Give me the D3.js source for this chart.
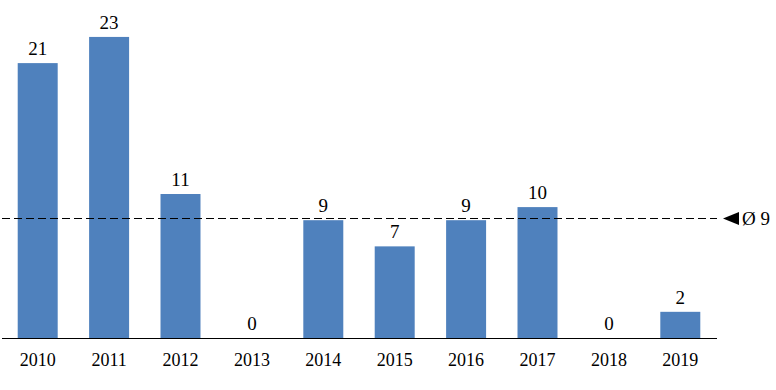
<!DOCTYPE html>
<html><head><meta charset="utf-8">
<script src="https://cdn.jsdelivr.net/npm/d3@7/dist/d3.min.js"></script>
<style>body{margin:0;background:#fff}svg{display:block}
svg text{font-family:"Liberation Serif","Times New Roman",serif !important;}</style>
</head><body>
<script>
const years = ["2010","2011","2012","2013","2014","2015","2016","2017","2018","2019"];
const values = [21,23,11,0,9,7,9,10,0,2];
const averageLabel = "Ø 9";

const W = 776, H = 390;
const svg = d3.select("body").append("svg").attr("width", W).attr("height", H);

const x = d3.scaleBand().domain(years).range([2, 716]).paddingInner(0.44).paddingOuter(0.22);
const y = d3.scaleLinear().domain([0, 25]).range([338, 338 - 25 * 13.09]);
const avg = d3.mean(values);

svg.selectAll("rect.bar").data(values).enter().append("rect")
  .attr("class", "bar")
  .attr("x", (d, i) => x(years[i]))
  .attr("width", x.bandwidth())
  .attr("y", d => y(d))
  .attr("height", d => y(0) - y(d))
  .attr("fill", "#4F81BD");

svg.selectAll("text.val").data(values).enter().append("text")
  .attr("class", "val")
  .attr("x", (d, i) => x(years[i]) + x.bandwidth() / 2)
  .attr("y", d => y(d) - 8)
  .attr("text-anchor", "middle")
  .style("font-size", "19px").attr("fill", "#000")
  .text(d => d);

// x axis
const xAxis = d3.axisBottom(x).tickSize(0).tickPadding(0);
const gx = svg.append("g").attr("transform", `translate(0,${y(0)})`).call(xAxis);
gx.attr("font-family", null).attr("font-size", null);
gx.select(".domain").attr("d", "M2,0.5H717").attr("stroke", "#000").attr("stroke-width", 1.2);
gx.selectAll(".tick text").style("font-size", "18px").attr("fill", "#000")
  .attr("dy", null).attr("y", 28);

// average line
const ya = Math.round(y(avg)) + 0.5;
svg.append("line").attr("x1", 2).attr("x2", 717).attr("y1", ya).attr("y2", ya)
  .attr("stroke", "#000").attr("stroke-width", 1).attr("stroke-dasharray", "8,4");
svg.append("path")
  .attr("d", `M723,${ya}L739,${ya - 6.5}L739,${ya + 6.5}Z`)
  .attr("fill", "#000");
svg.append("text").attr("x", 742).attr("y", ya + 6.5)
  .style("font-size", "19px").attr("fill", "#000")
  .text(averageLabel);
</script>
</body></html>
